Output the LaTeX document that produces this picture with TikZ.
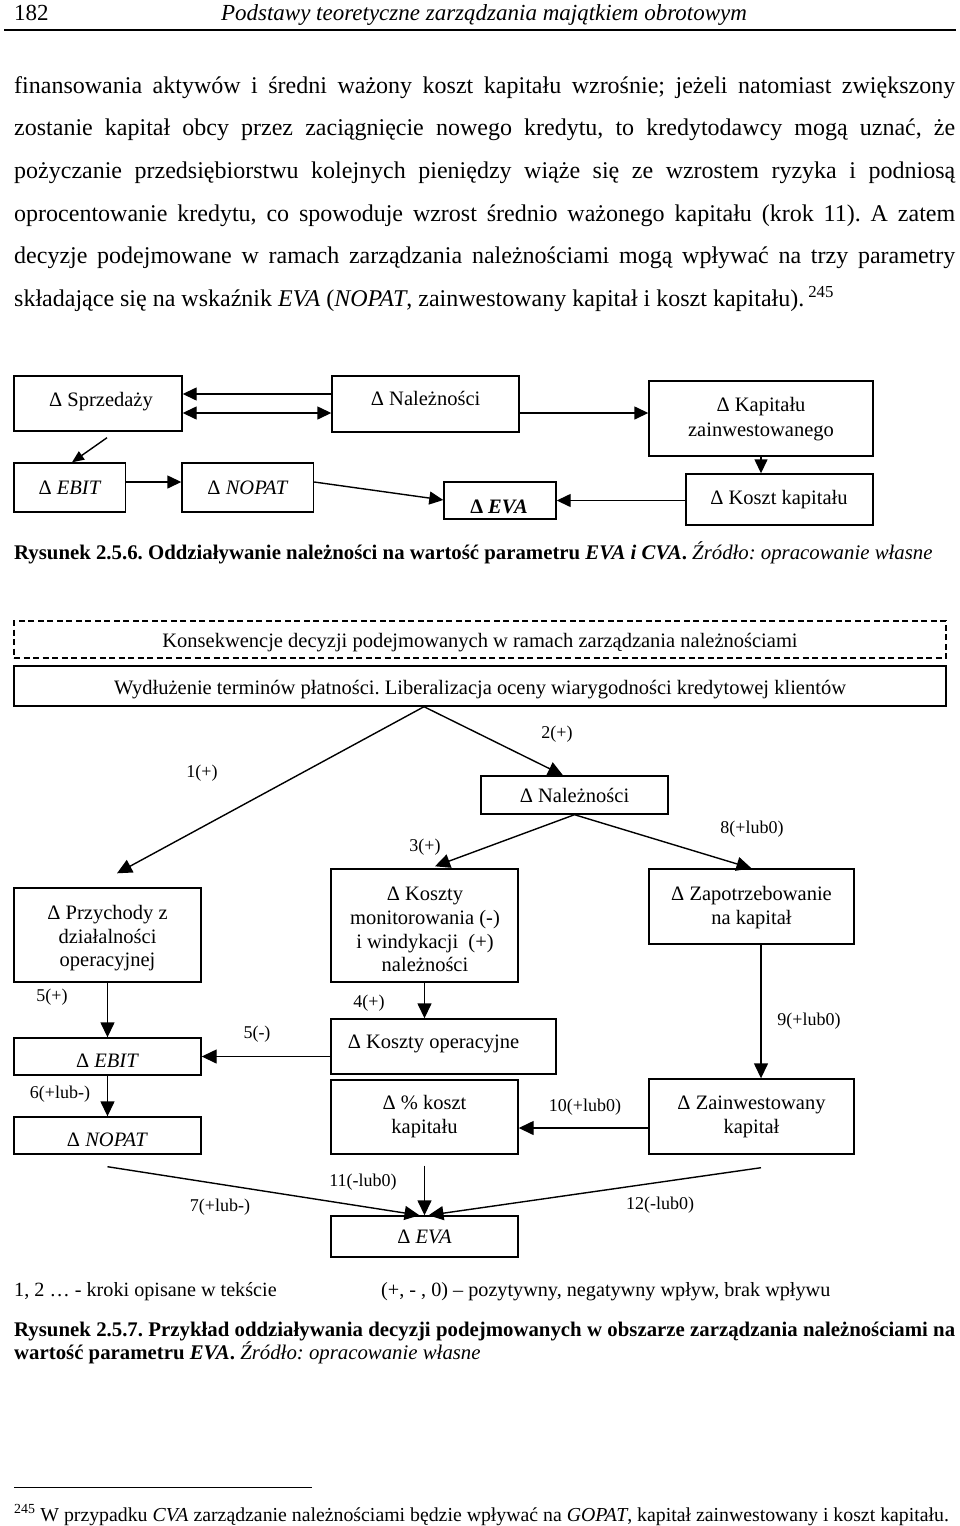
\documentclass[tikz,border=0pt]{standalone}
\usepackage{fontspec}
\setmainfont{Liberation Serif}
\usetikzlibrary{arrows.meta,calc}
\frenchspacing
\newcommand{\bodyf}{\fontsize{24}{28}\selectfont}
\newcommand{\headf}{\fontsize{23}{27}\selectfont}
\newcommand{\diagf}{\fontsize{20.5}{24}\selectfont}
\newcommand{\labf}{\fontsize{18}{21}\selectfont}
\newcommand{\capf}{\fontsize{20.8}{24}\selectfont}
\newcommand{\legf}{\fontsize{20.2}{24}\selectfont}
\newcommand{\notef}{\fontsize{19.8}{23}\selectfont}
\begin{document}
\begin{tikzpicture}[x=1pt,y=-1pt,
  box/.style={draw,line width=1.4pt,inner sep=0pt},
  txt/.style={anchor=base,inner sep=0pt,font=\diagf},
  lab/.style={inner sep=0pt,font=\labf},
  arr/.style={line width=1.4pt,-{Triangle[length=15pt,width=14pt]}},
  arrs/.style={line width=1.4pt,-{Triangle[length=14pt,width=13pt]}},
  bl/.style={anchor=base west,inner sep=0pt,font=\bodyf},
  cl/.style={anchor=base west,inner sep=0pt,font=\capf},
  ll/.style={anchor=base west,inner sep=0pt,font=\legf},
]
\useasboundingbox (0,0) rectangle (960,1526);

% ---------- running head ----------
\node[anchor=base west,inner sep=0pt,font=\headf] (pg) at (14,20) {182};
\node[anchor=base,inner sep=0pt,font=\headf\itshape] (hd) at (484,20) {Podstawy teoretyczne zarządzania majątkiem obrotowym};
\draw[line width=2.5pt] (4,30) -- (956,30);

% ---------- body text ----------
\node[bl] (l1) at (14,93) {\makebox[941pt][s]{finansowania aktywów i średni ważony koszt kapitału wzrośnie; jeżeli natomiast zwiększony}};
\node[bl] (l2) at (14,135.7) {\makebox[941pt][s]{zostanie kapitał obcy przez zaciągnięcie nowego kredytu, to kredytodawcy mogą uznać, że}};
\node[bl] (l3) at (14,178.4) {\makebox[941pt][s]{pożyczanie przedsiębiorstwu kolejnych pieniędzy wiąże się ze wzrostem ryzyka i podniosą}};
\node[bl] (l4) at (14,221) {\makebox[941pt][s]{oprocentowanie kredytu, co spowoduje wzrost średnio ważonego kapitału (krok 11). A zatem}};
\node[bl] (l5) at (14,263.8) {\makebox[941pt][s]{decyzje podejmowane w ramach zarządzania należnościami mogą wpływać na trzy parametry}};
\node[bl] (l6) at (14,306.5) {składające się na wskaźnik \textit{EVA} (\textit{NOPAT}, zainwestowany kapitał i koszt kapitału).\,\textsuperscript{245}};

% ---------- figure 2.5.6 ----------
\node[box,minimum width=168pt,minimum height=55pt] (spr) at (98,403.5) {};
\node[box,minimum width=187pt,minimum height=56pt] (nalA) at (425.5,404) {};
\node[box,minimum width=224pt,minimum height=75pt] (kap) at (761,418.5) {};
\node[box,minimum width=111.5pt,minimum height=49pt] (ebitA) at (69.75,487.5) {};
\node[box,minimum width=131.5pt,minimum height=49pt] (nopatA) at (247.75,487.5) {};
\node[box,minimum width=112pt,minimum height=37pt] (evaA) at (500,500.5) {};
\node[box,minimum width=187pt,minimum height=51pt] (kosztA) at (779.5,499.5) {};

\node[txt] (tspr) at (101,406) {Δ Sprzedaży};
\node[txt] (tnalA) at (425.6,405) {Δ Należności};
\node[txt] (tkap1) at (761,411) {Δ Kapitału};
\node[txt] (tkap2) at (761,436) {zainwestowanego};
\node[txt] (tebitA) at (70,494) {Δ \textit{EBIT}};
\node[txt] (tnopatA) at (248,494) {Δ \textit{NOPAT}};
\node[txt] (tevaA) at (499,513) {\textbf{Δ \textit{EVA}}};
\node[txt] (tkosztA) at (779,504) {Δ Koszt kapitału};

\draw[arrs] (nalA.west |- 0,394) -- (spr.east |- 0,394);
\draw[line width=1.4pt,{Triangle[length=14pt,width=13pt]}-{Triangle[length=14pt,width=13pt]}] (spr.east |- 0,413) -- (nalA.west |- 0,413);
\draw[arrs] (nalA.east |- 0,413) -- (kap.west |- 0,413);
\draw[line width=1.4pt,-{Triangle[length=12pt,width=10pt]}] ($(spr.south)+(9,6)$) -- (ebitA.north -| 72,0);
\draw[arrs] (ebitA.east |- 0,482) -- (nopatA.west |- 0,482);
\draw[arrs] (nopatA.east |- 0,482) -- (evaA.west |- 0,500);
\draw[arrs] (kosztA.west |- 0,500.5) -- (evaA.east |- 0,500.5);
\draw[arrs] (kap.south) -- (kosztA.north -| kap.south);

\node[cl] (cap1) at (14,559) {\textbf{Rysunek 2.5.6. Oddziaływanie należności na wartość parametru \textit{EVA i CVA}.} \textit{Źródło: opracowanie własne}};

% ---------- figure 2.5.7 ----------
\node[box,dashed,dash pattern=on 6pt off 3.5pt,minimum width=932pt,minimum height=37pt] (kons) at (480,639.5) {};
\node[txt] (tkons) at (480,647) {Konsekwencje decyzji podejmowanych w ramach zarządzania należnościami};
\node[box,minimum width=932pt,minimum height=40pt] (wyd) at (480,686) {};
\node[txt] (twyd) at (480,694) {Wydłużenie terminów płatności. Liberalizacja oceny wiarygodności kredytowej klientów};

\coordinate (apex) at (wyd.south -| 424,0);

\node[box,minimum width=187pt,minimum height=38pt] (nalB) at (574.5,795) {};
\node[txt] (tnalB) at (574.5,802) {Δ Należności};

\node[box,minimum width=187pt,minimum height=94pt] (prz) at (107.5,935) {};
\node[txt] (tprz1) at (107.5,919) {Δ Przychody z};
\node[txt] (tprz2) at (107.5,943) {działalności};
\node[txt] (tprz3) at (107.5,966) {operacyjnej};

\node[box,minimum width=187pt,minimum height=113pt] (kmon) at (424.5,925.5) {};
\node[txt] (tkm1) at (425,900) {Δ Koszty};
\node[txt] (tkm2) at (425,924) {monitorowania (-)};
\node[txt] (tkm3) at (425,948) {i windykacji\ \ (+)};
\node[txt] (tkm4) at (425,971) {należności};

\node[box,minimum width=205pt,minimum height=75pt] (zap) at (751.5,906.5) {};
\node[txt] (tzap1) at (751.5,900) {Δ Zapotrzebowanie};
\node[txt] (tzap2) at (751.5,924) {na kapitał};

\node[box,minimum width=187pt,minimum height=37pt] (ebitB) at (107.5,1056.5) {};
\node[txt] (tebitB) at (107.5,1067) {Δ \textit{EBIT}};
\node[box,minimum width=187pt,minimum height=37pt] (nopatB) at (107.5,1135.5) {};
\node[txt] (tnopatB) at (107.5,1146.5) {Δ \textit{NOPAT}};

\node[box,minimum width=225pt,minimum height=55pt] (kop) at (443.5,1046.5) {};
\node[txt] (tkop) at (433.5,1048) {Δ Koszty operacyjne};
\node[box,minimum width=187pt,minimum height=74pt] (pk) at (424.5,1117) {};
\node[txt] (tpk1) at (424.5,1109) {Δ \% koszt};
\node[txt] (tpk2) at (424.5,1133) {kapitału};

\node[box,minimum width=205pt,minimum height=75pt] (zain) at (751.5,1116.5) {};
\node[txt] (tzain1) at (751.5,1109) {Δ Zainwestowany};
\node[txt] (tzain2) at (751.5,1133) {kapitał};

\node[box,minimum width=187pt,minimum height=41pt] (evaB) at (424.5,1236.5) {};
\node[txt] (tevaB) at (424.5,1243.5) {Δ \textit{EVA}};

% connectors
\draw[arr] (apex) -- ($(prz.north)+(9.5,-14)$);
\draw[arr] (apex) -- (nalB.north -| 563,0);
\draw[arr] (nalB.south) -- ($(kmon.north)+(10.5,-2)$);
\draw[arr] (nalB.south) -- (zap.north);
\draw[arr] (prz.south) -- (ebitB.north);
\draw[arr] (kmon.south) -- (kop.north -| kmon.south);
\draw[arr] (kop.west |- ebitB.east) -- (ebitB.east);
\draw[arr] (ebitB.south) -- (nopatB.north);
\draw[arr] (zap.south -| 761,0) -- (zain.north -| 761,0);
\draw[arr] (zain.west |- 0,1128) -- (pk.east |- 0,1128);
\draw[arr] ($(pk.south)+(0,11)$) -- (evaB.north);
\draw[arr] ($(nopatB.south)+(0,12)$) -- ($(evaB.north)+(-5,0)$);
\draw[arr] ($(zain.south -| 761,0)+(0,13)$) -- ($(evaB.north)+(4,0)$);

% labels
\node[lab] (n1) at (202,773) {1(+)};
\node[lab] (n2) at (557,734) {2(+)};
\node[lab] (n3) at (425,847) {3(+)};
\node[lab] (n8) at (752,829) {8(+lub0)};
\node[lab] (n5a) at (52,997) {5(+)};
\node[lab] (n4) at (369,1003) {4(+)};
\node[lab] (n5b) at (257,1034) {5(-)};
\node[lab] (n9) at (809,1021) {9(+lub0)};
\node[lab] (n6) at (60,1094) {6(+lub-)};
\node[lab] (n10) at (585,1107) {10(+lub0)};
\node[lab] (n11) at (363,1182) {11(-lub0)};
\node[lab] (n7) at (220,1207) {7(+lub-)};
\node[lab] (n12) at (660,1205) {12(-lub0)};

% legend and caption
\node[ll] (leg1) at (14,1296) {1, 2 … - kroki opisane w tekście};
\node[ll] (leg2) at (381,1296) {(+, - , 0) – pozytywny, negatywny wpływ, brak wpływu};
\node[cl] (cap2a) at (14,1336) {\makebox[941pt][s]{\bfseries Rysunek 2.5.7. Przykład oddziaływania decyzji podejmowanych w obszarze zarządzania należnościami na}};
\node[cl] (cap2b) at (14,1359) {\textbf{wartość parametru \textit{EVA}.} \textit{Źródło: opracowanie własne}};

% footnote
\draw[line width=1pt] (14,1487) -- (312,1487);
\node[anchor=base west,inner sep=0pt,font=\notef] (fn) at (14,1521) {\textsuperscript{245} W przypadku \textit{CVA} zarządzanie należnościami będzie wpływać na \textit{GOPAT}, kapitał zainwestowany i koszt kapitału.};
\end{tikzpicture}
\end{document}
